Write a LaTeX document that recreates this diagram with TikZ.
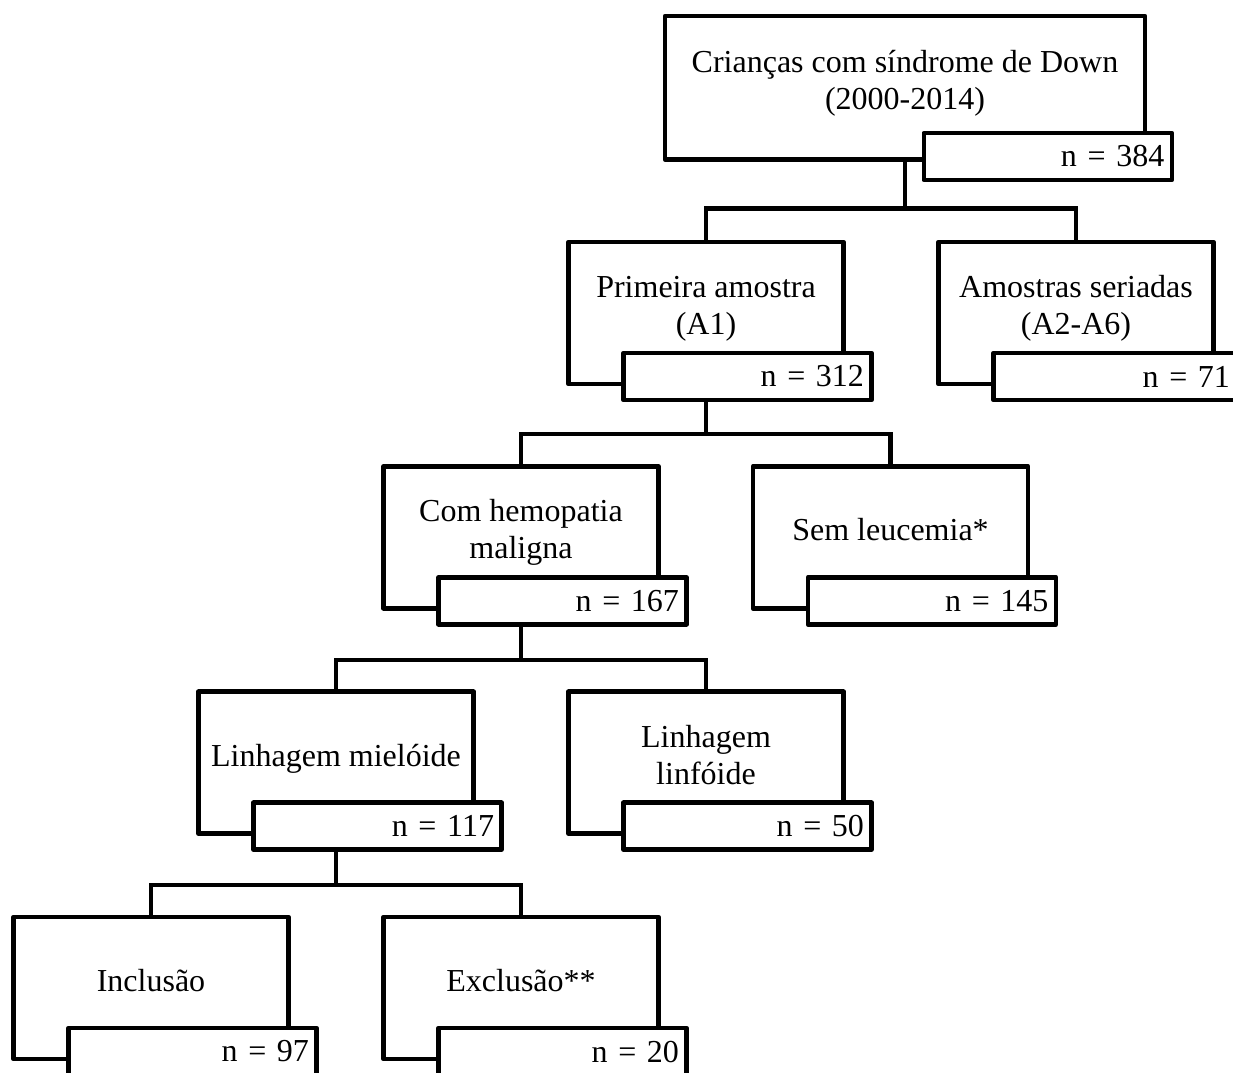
\documentclass[tikz,border=0pt]{standalone}
\usepackage{fontspec}
\setmainfont{Liberation Serif}
\usetikzlibrary{calc}
\begin{document}
\begin{tikzpicture}[x=1pt,y=-1pt,
  every node/.style={font=\fontsize{32}{37}\selectfont},
  mainbox/.style={draw, line width=4.5pt, line join=round, minimum width=275pt,
    minimum height=142pt, inner sep=0pt, outer sep=0pt, anchor=north},
  countbox/.style={draw, fill=white, line width=4.5pt, line join=round,
    minimum height=47pt, inner xsep=7.5pt, inner ysep=0pt, outer sep=0pt,
    text width=233pt, align=right, anchor=north west},
  boxtext/.style={anchor=base, inner sep=0pt},
  link/.style={line width=4.5pt, line join=miter}]
\useasboundingbox (0,0) rectangle (1233,1072);
\fill[white] (0,0) rectangle (1233,1072);
\clip (0,0) rectangle (1233,1072);

% level 1
\node[mainbox, minimum width=480pt, minimum height=143.5pt] (A) at (905,16) {};
\node[countbox] (nA) at ($(A.south west)+(258.8,-26.5)$) {n = 384};
\node[boxtext] (tA) at ($(A.north)+(0,56.5)$)
  {\begin{tabular}[t]{@{}c@{}}Crianças com síndrome de Down\\(2000-2014)\end{tabular}};

% level 2
\node[mainbox] (B) at (706,242) {};
\node[countbox] (nB) at ($(B.south west)+(55,-31)$) {n = 312};
\node[boxtext] (tB) at ($(B.north)+(0,55.5)$)
  {\begin{tabular}[t]{@{}c@{}}Primeira amostra\\(A1)\end{tabular}};

\node[mainbox] (C) at (1076,242) {};
\node[countbox, text width=229pt] (nC) at ($(C.south west)+(55,-31)$) {n = 71};
\node[boxtext] (tC) at ($(C.north)+(0,55.5)$)
  {\begin{tabular}[t]{@{}c@{}}Amostras seriadas\\(A2-A6)\end{tabular}};

% level 3
\node[mainbox] (D) at (521,466.3) {};
\node[countbox] (nD) at ($(D.south west)+(55,-31)$) {n = 167};
\node[boxtext] (tD) at ($(D.north)+(0,55.5)$)
  {\begin{tabular}[t]{@{}c@{}}Com hemopatia\\maligna\end{tabular}};

\node[mainbox] (E) at (890.5,466.3) {};
\node[countbox] (nE) at ($(E.south west)+(55,-31)$) {n = 145};
\node[boxtext] (tE) at ($(E.north)+(0,74.5)$) {Sem leucemia*};

% level 4
\node[mainbox] (F) at (336,691.7) {};
\node[countbox] (nF) at ($(F.south west)+(55,-31)$) {n = 117};
\node[boxtext] (tF) at ($(F.north)+(0,74.5)$) {Linhagem mielóide};

\node[mainbox] (G) at (706,691.7) {};
\node[countbox] (nG) at ($(G.south west)+(55,-31)$) {n = 50};
\node[boxtext] (tG) at ($(G.north)+(0,55.5)$)
  {\begin{tabular}[t]{@{}c@{}}Linhagem\\linfóide\end{tabular}};

% level 5
\node[mainbox] (H) at (151,917) {};
\node[countbox] (nH) at ($(H.south west)+(55,-31)$) {n = 97};
\node[boxtext] (tH) at ($(H.north)+(0,74.5)$) {Inclusão};

\node[mainbox] (I) at (521,917) {};
\node[countbox] (nI) at ($(I.south west)+(55,-31)$) {n = 20};
\node[boxtext] (tI) at ($(I.north)+(0,74.5)$) {Exclusão**};

% branching connectors
\coordinate (jA) at (905,208.3);
\coordinate (jB) at (706,433.8);
\coordinate (jD) at (521,660);
\coordinate (jF) at (336,885);

\draw[link] (A.south) -- (jA);
\draw[link] (B.north) |- (jA) -| (C.north);
\draw[link] (B.north |- nB.south) -- (jB);
\draw[link] (D.north) |- (jB) -| (E.north);
\draw[link] (D.north |- nD.south) -- (jD);
\draw[link] (F.north) |- (jD) -| (G.north);
\draw[link] (F.north |- nF.south) -- (jF);
\draw[link] (H.north) |- (jF) -| (I.north);
\end{tikzpicture}
\end{document}
